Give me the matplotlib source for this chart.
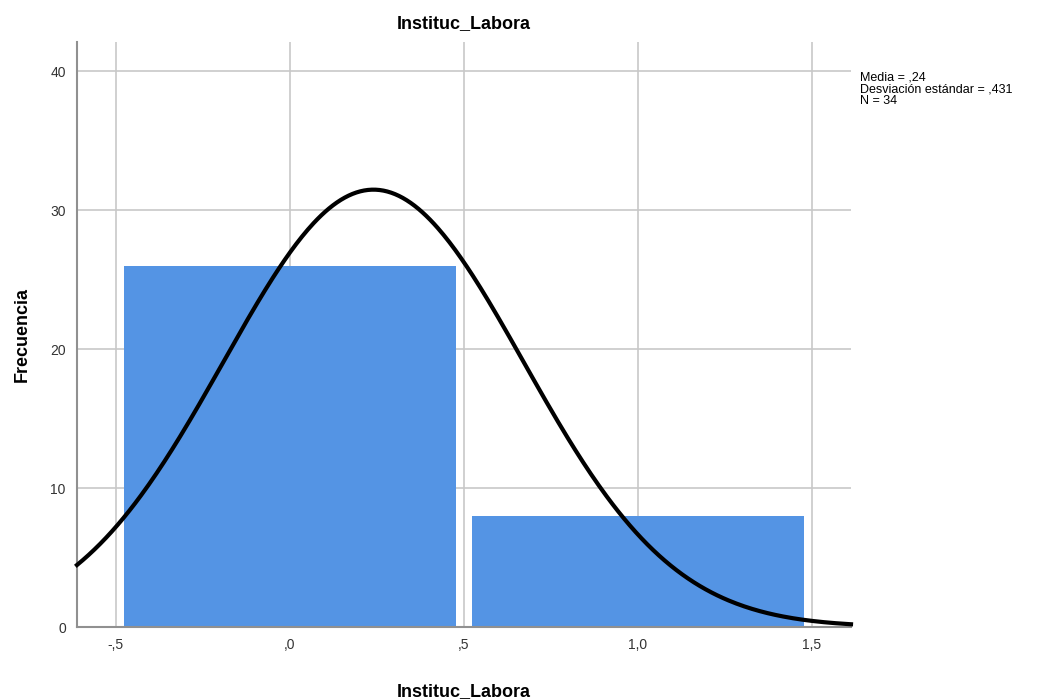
import numpy as np
import matplotlib.pyplot as plt

# Data
categories = [0, 1]
counts = [26, 8]
media = 0.24
desv = 0.431
n = 34
x_ticks = [-0.5, 0.0, 0.5, 1.0, 1.5]
x_tick_labels = ['-,5', ',0', ',5', '1,0', '1,5']
y_ticks = [0, 10, 20, 30, 40]

plt.rcParams['font.family'] = ['Liberation Sans', 'DejaVu Sans']

fig = plt.figure(figsize=(10.47, 6.99), dpi=100)
ax = fig.add_axes([0.0735, 0.103, 0.7393, 0.837])

ax.set_xlim(-0.612, 1.612)
ax.set_ylim(0, 42.1)

# grid behind everything
ax.set_axisbelow(True)
ax.grid(True, color='#c8c8c8', linewidth=1.2)

ax.bar(categories, counts, width=0.955, color='#5494e4', edgecolor='none', zorder=2)

# normal curve scaled to counts (bin width 1)
xs = np.linspace(-0.612, 1.612, 400)
ys = n / (desv * np.sqrt(2 * np.pi)) * np.exp(-0.5 * ((xs - media) / desv) ** 2)
ax.plot(xs, ys, color='black', linewidth=3, zorder=3, clip_on=False)

ax.set_xticks(x_ticks)
ax.set_xticklabels(x_tick_labels)
ax.set_yticks(y_ticks)
ax.tick_params(length=0, labelsize=10, colors='#333333', pad=8)

for side in ['top', 'right']:
    ax.spines[side].set_visible(False)
for side in ['left', 'bottom']:
    ax.spines[side].set_color('#909090')
    ax.spines[side].set_linewidth(1.5)

ax.set_title('Instituc_Labora', fontsize=13, fontweight='bold', pad=10)
ax.set_xlabel('Instituc_Labora', fontsize=13, fontweight='bold', labelpad=26)
ax.set_ylabel('Frecuencia', fontsize=13, fontweight='bold', labelpad=14)
ax.xaxis.set_label_coords(0.5, -0.095)

fig.text(0.821, 0.897, 'Media = ,24\nDesviación estándar = ,431\nN = 34',
         fontsize=9, va='top', ha='left', linespacing=0.95)

fig.savefig('out.png', dpi=100)
